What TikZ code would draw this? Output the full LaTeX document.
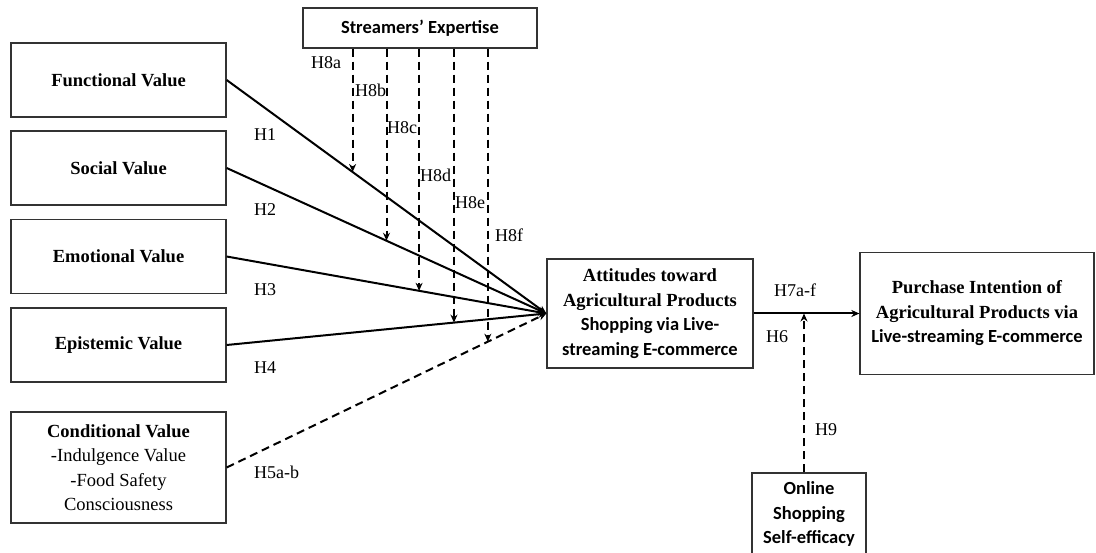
\documentclass[tikz,border=0pt]{standalone}
\usepackage{fontspec}
\setmainfont{Liberation Serif}
\newfontfamily\calib{Carlito}
\usetikzlibrary{arrows.meta,calc}
\begin{document}
\begin{tikzpicture}[x=1pt,y=-1pt,
  box/.style={draw=black!80,line width=1.3pt,rectangle,inner sep=0pt,align=center,
    font=\fontsize{18.5}{24.5}\selectfont\bfseries},
  conn/.style={line width=2pt,-{Stealth[length=8pt,width=7pt]}},
  dconn/.style={conn,dash pattern=on 8pt off 5pt},
  lab/.style={font=\fontsize{18}{20}\selectfont,inner sep=0pt,anchor=west}]
\useasboundingbox (0,0) rectangle (1096,553);
\fill[white] (0,0) rectangle (1096,553);
% boxes
\node[box,minimum width=215pt,minimum height=74pt] (fv) at (118.5,80) {Functional Value};
\node[box,minimum width=215pt,minimum height=74pt] (sv) at (118.5,168) {Social Value};
\node[box,minimum width=215pt,minimum height=74pt] (ev) at (118.5,256.5) {Emotional Value};
\node[box,minimum width=215pt,minimum height=74pt] (epv) at (118.5,345) {Epistemic Value};
\node[box,minimum width=215pt,minimum height=111pt] (cv) at (118.5,467.5)
  {Conditional Value\\{\mdseries -Indulgence Value}\\{\mdseries -Food Safety}\\{\mdseries Consciousness}};
\node[box,minimum width=234pt,minimum height=40pt,font=\fontsize{18.5}{20}\selectfont\bfseries\calib] (se) at (420,28) {Streamers’ Expertise};
\node[box,minimum width=206pt,minimum height=109pt] (att) at (650,313.5)
  {Attitudes toward\\Agricultural Products\\{\calib Shopping via Live-}\\{\calib streaming E-commerce}};
\node[box,minimum width=234pt,minimum height=122pt] (pi) at (977,313.5)
  {Purchase Intention of\\Agricultural Products via\\{\calib Live-streaming E-commerce}};
\node[box,minimum width=114pt,minimum height=82pt,font=\fontsize{18.5}{24.5}\selectfont\bfseries\calib] (os) at (809,514)
  {Online\\Shopping\\Self-efficacy};
% main paths
\draw[conn] (fv.east) -- (att.west);
\draw[conn] (sv.east) -- (att.west);
\draw[conn] (ev.east) -- (att.west);
\draw[conn] (epv.east) -- (att.west);
\draw[dconn] (cv.east) -- (att.west);
\draw[conn] (att.east) -- (pi.west);
% moderation points
\coordinate (p1) at ($(fv.east)!0.394!(att.west)$);
\coordinate (p2) at ($(sv.east)!0.50!(att.west)$);
\coordinate (p3) at ($(ev.east)!0.602!(att.west)$);
\coordinate (p4) at ($(epv.east)!0.711!(att.west)$);
\coordinate (p5) at ($(cv.east)!0.817!(att.west)$);
\foreach \p in {p1,p2,p3,p4,p5}
  \draw[dconn] (\p |- se.south) -- (\p);
\coordinate (p9) at ($(os.north)+(-5,0)$);
\draw[dconn] (p9) -- (p9 |- att.east);
% labels
\node[lab] (h1) at (254,135) {H1};
\node[lab] (h2) at (254,210) {H2};
\node[lab] (h3) at (254,290) {H3};
\node[lab] (h4) at (254,368) {H4};
\node[lab] (h5) at (254,472) {H5a-b};
\node[lab] (h8a) at (311,63) {H8a};
\node[lab] (h8b) at (355,90) {H8b};
\node[lab] (h8c) at (387,128) {H8c};
\node[lab] (h8d) at (420,175) {H8d};
\node[lab] (h8e) at (455,203) {H8e};
\node[lab] (h8f) at (495,235) {H8f};
\node[lab] (h7) at (774,290) {H7a-f};
\node[lab] (h6) at (766,337) {H6};
\node[lab] (h9) at (815,430) {H9};
\end{tikzpicture}
\end{document}
